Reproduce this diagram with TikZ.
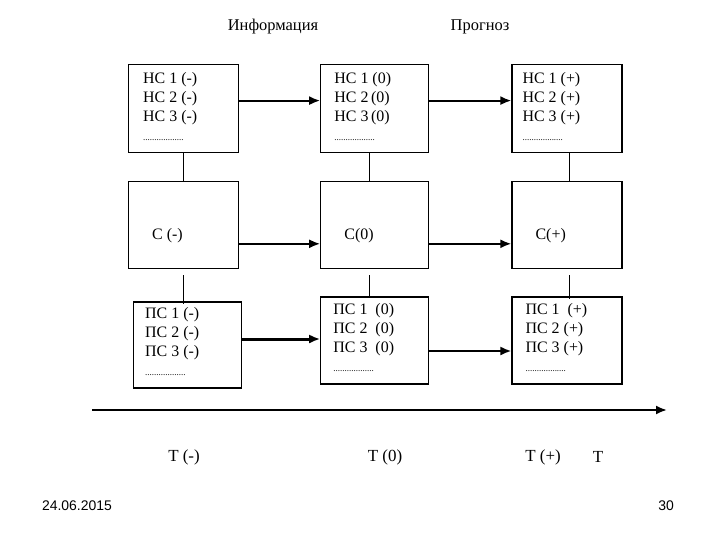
\documentclass[tikz,border=0pt]{standalone}
\usepackage{fontspec}
\setmainfont{Liberation Serif}
\newfontfamily\footfont{Liberation Sans}
\usetikzlibrary{
  arrows.meta,
  positioning
}
\newcommand{\dotrow}{{\fontsize{9}{19}\selectfont ..................}}

\begin{document}
\begin{tikzpicture}[
      x=1bp, y=1bp,
      cell/.style={
        rectangle, draw=black, line width=1.2bp,
        minimum width=110bp, minimum height=88bp, inner sep=0pt
      },
      entry/.style={inner sep=0pt, align=left, font=\fontsize{16}{19}\selectfont},
      flow/.style={-{Latex[length=11bp,width=9bp]}, line width=2bp},
      link/.style={line width=1bp},
      title/.style={font=\fontsize{16.5}{19}\selectfont},
      tick/.style={font=\fontsize{17}{19}\selectfont},
      foot/.style={font=\footfont\fontsize{14}{16}\selectfont}
    ]
      \useasboundingbox (0,0) rectangle (720,-540);

      \node[title] (info) at (273,-27) {Информация};
      \node[title] (prog) at (480,-27) {Прогноз};

      % row of НС
      \node[cell, anchor=north west] (a1) at (128,-64) {};
      \node[cell, minimum width=108bp, right=81bp of a1] (b1) {};
      \node[cell, right=82bp of b1] (c1) {};

      % row of С
      \node[cell, minimum height=87bp, below=28bp of a1] (a2) {};
      \node[cell, minimum width=108bp, minimum height=87bp, below=28bp of b1] (b2) {};
      \node[cell, minimum height=87bp, below=28bp of c1] (c2) {};

      % row of ПС
      \node[cell, minimum width=108bp, minimum height=86bp, below=32bp of a2, xshift=4bp] (a3) {};
      \node[cell, minimum width=108bp, minimum height=87bp, below=27bp of b2] (b3) {};
      \node[cell, minimum height=87bp, below=27bp of c2] (c3) {};

      \node[entry, below right=8bp and 15bp of a1.north west] (a1t) {НС 1 (-)\\НС 2 (-)\\НС 3 (-)\\\dotrow};
      \node[entry, below right=8bp and 14bp of b1.north west] (b1t) {НС 1 (0)\\НС 2\,(0)\\НС 3\,(0)\\\dotrow};
      \node[entry, below right=8bp and 11bp of c1.north west] (c1t) {НС 1 (+)\\НС 2 (+)\\НС 3 (+)\\\dotrow};

      \node[entry, right=24bp of a2.west, yshift=-10bp] (a2t) {С (-)};
      \node[entry, right=24bp of b2.west, yshift=-10bp] (b2t) {С(0)};
      \node[entry, right=24bp of c2.west, yshift=-10bp] (c2t) {С(+)};

      \node[entry, below right=6bp and 12bp of a3.north west] (a3t) {ПС 1 (-)\\ПС 2 (-)\\ПС 3 (-)\\\dotrow};
      \node[entry, below right=7bp and 13bp of b3.north west] (b3t) {ПС 1~~(0)\\ПС 2~~(0)\\ПС 3~~(0)\\\dotrow};
      \node[entry, below right=7bp and 14bp of c3.north west] (c3t) {ПС 1~~(+)\\ПС 2 (+)\\ПС 3 (+)\\\dotrow};

      % horizontal arrows
      \draw[flow] ([yshift=8bp]a1.east) -- ([yshift=8bp]b1.west);
      \draw[flow] ([yshift=8bp]b1.east) -- ([yshift=8bp]c1.west);
      \draw[flow] ([yshift=-18.5bp]a2.east) -- ([yshift=-18.5bp]b2.west);
      \draw[flow] ([yshift=-18.5bp]b2.east) -- ([yshift=-18.5bp]c2.west);
      \draw[flow, line width=3bp] ([yshift=6bp]a3.east) -- ([yshift=6bp]a3.east -| b3.west);
      \draw[flow] ([yshift=-10.5bp]b3.east) -- ([yshift=-10.5bp]c3.west);

      % vertical links
      \draw[link] (a1.south) -- (a2.north);
      \draw[link] ([xshift=-5bp]b1.south) -- ([xshift=-5bp]b2.north);
      \draw[link] ([xshift=2bp]c1.south) -- ([xshift=2bp]c2.north);
      \draw[link] ([yshift=-6bp]a2.south) -- ([yshift=-3bp]a2.south |- a3.north);
      \draw[link] ([xshift=-5bp, yshift=-6bp]b2.south) -- ([xshift=-5bp]b2.south |- b3.north);
      \draw[link] ([xshift=2bp, yshift=-6bp]c2.south) -- ([xshift=2bp, yshift=-3bp]c2.south |- c3.north);

      % time axis
      \coordinate (t0) at (92,-410);
      \coordinate (t1) at (667,-410);
      \draw[flow] (t0) -- (t1);
      \node[tick] (tm) at (184,-457) {Т (-)};
      \node[tick] (tz) at (385,-457) {Т (0)};
      \node[tick] (tp) at (543,-457) {Т (+)};
      \node[tick] (tt) at (598,-457) {Т};

      \node[foot] (date) at (77,-506) {24.06.2015};
      \node[foot] (page) at (666,-506) {30};
    \end{tikzpicture}
\end{document}
